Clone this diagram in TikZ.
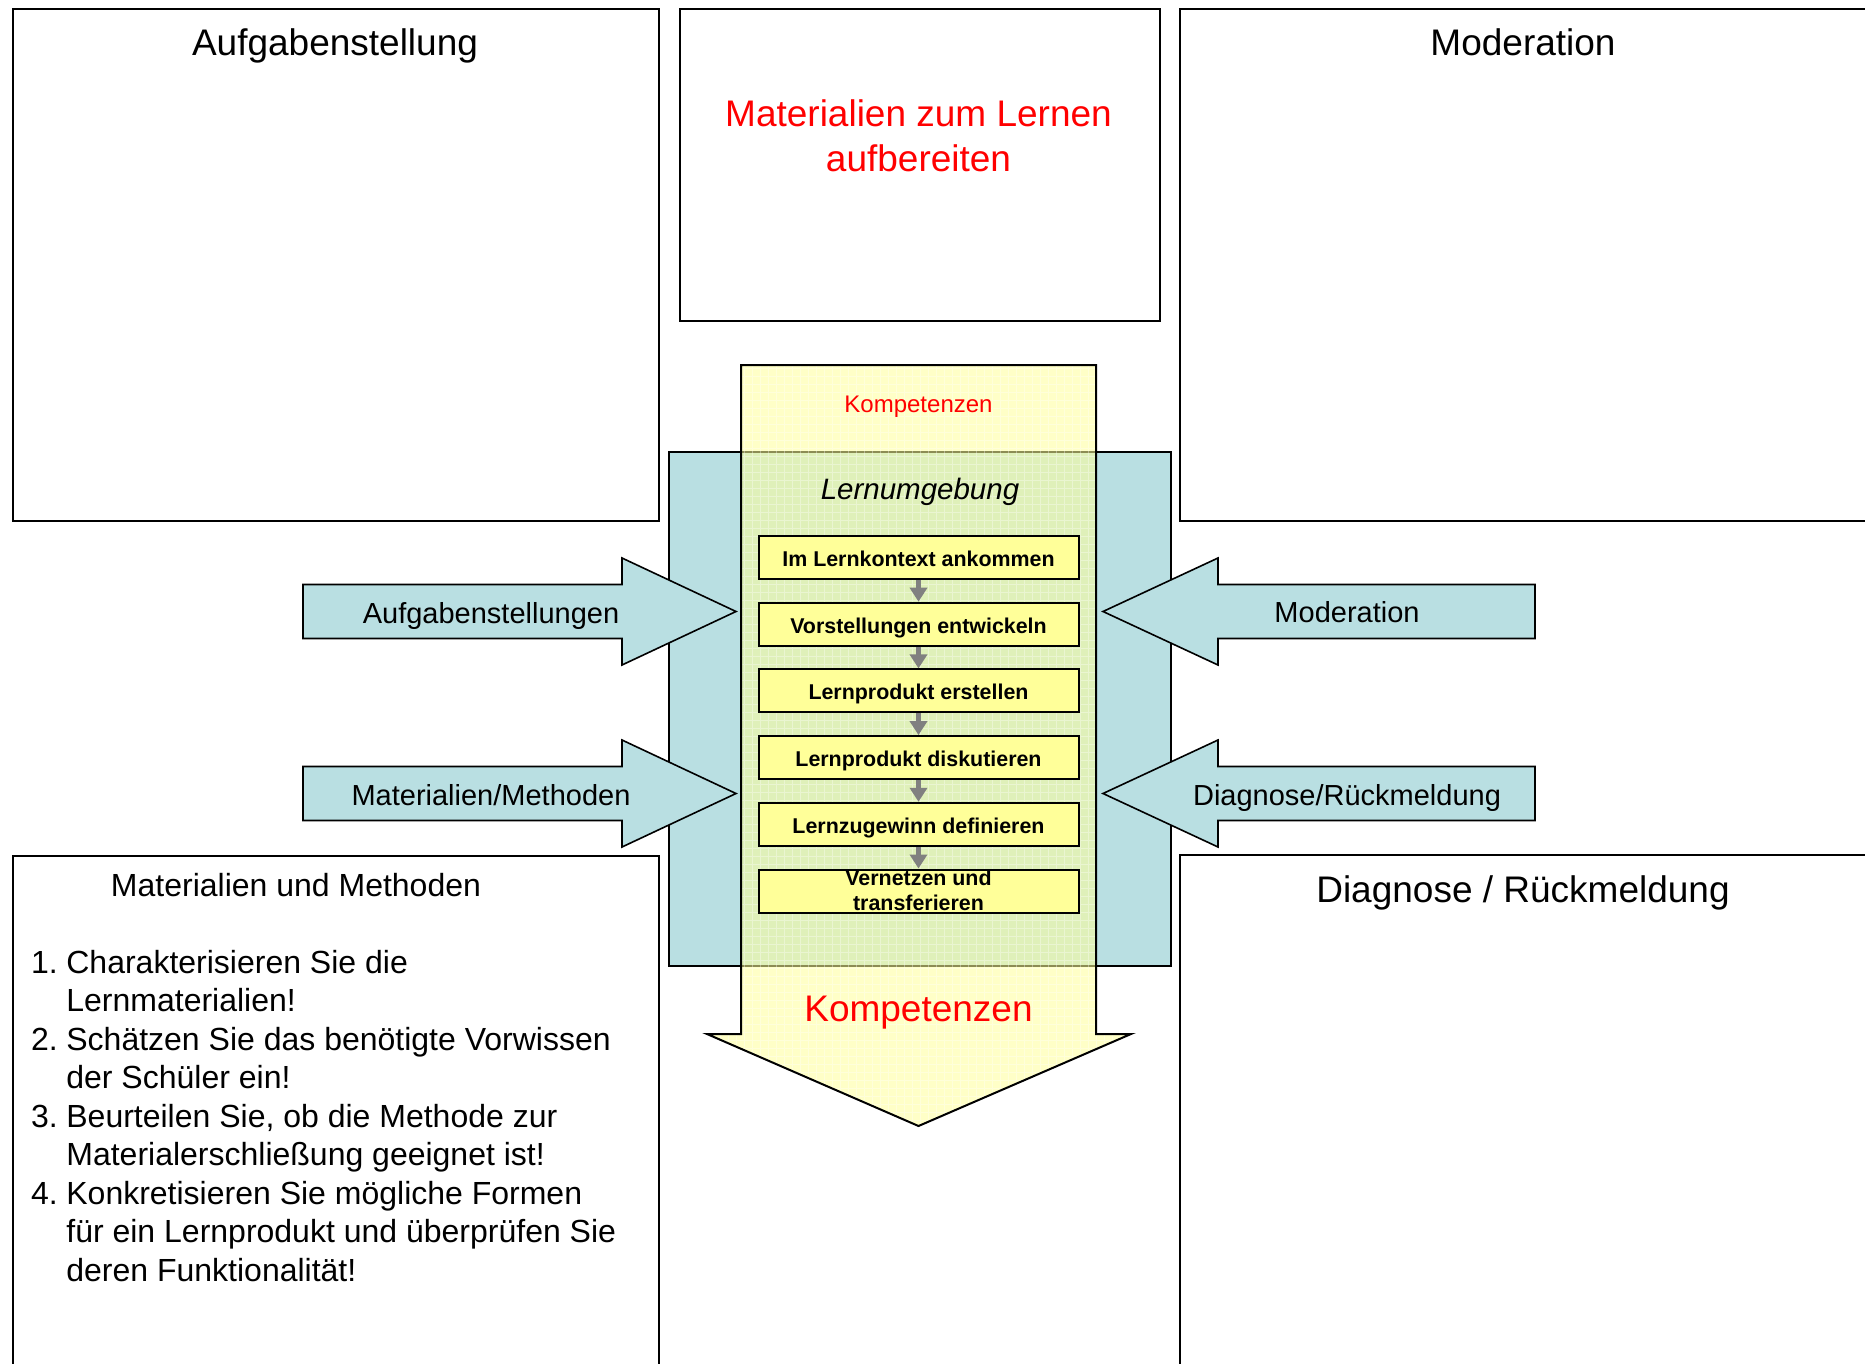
\documentclass[tikz,border=0pt]{standalone}
\usepackage{fontspec}
\setmainfont{Liberation Sans}
\usetikzlibrary{arrows.meta}
\definecolor{bluefill}{RGB}{185,223,226}
\definecolor{yelfill}{RGB}{255,255,153}
\definecolor{arrowgray}{RGB}{128,128,128}
\begin{document}
\begin{tikzpicture}[x=1pt,y=-1pt,
  panel/.style={draw=black,line width=2pt,fill=white,inner sep=0pt,anchor=north west},
  ptitle/.style={font=\fontsize{37}{45}\selectfont,inner sep=0pt},
  bluearrow/.style={draw=black,line width=1.6pt,fill=bluefill,line join=miter},
  arrowlabel/.style={font=\fontsize{29}{34}\selectfont,inner sep=0pt},
  stepbox/.style={draw=black,line width=2pt,fill=yelfill,minimum width=320pt,minimum height=43pt,inner sep=0pt,text height=17.6pt,text depth=0pt,font=\bfseries\fontsize{21.4}{25}\selectfont,align=center},
  flow/.style={draw=arrowgray,line width=5pt,-{Triangle[width=17pt,length=14pt]}}]
\useasboundingbox (0,0) rectangle (1865,1364);
\fill[white] (0,0) rectangle (1865,1364);
\clip (0,0) rectangle (1865,1364);

% panels
\node[panel,minimum width=646pt,minimum height=512pt] (pAuf) at (12,8) {};
\node[panel,minimum width=480pt,minimum height=312pt] (pMat) at (679,8) {};
\node[panel,minimum width=720pt,minimum height=512pt] (pMod) at (1179,8) {};
\node[panel,minimum width=646pt,minimum height=560pt] (pMuM) at (12,855) {};
\node[panel,minimum width=720pt,minimum height=560pt] (pDia) at (1179,854) {};

\node[ptitle] (tAuf) at (335,45.5) {Aufgabenstellung};
\node[ptitle,text=red,align=center] (tMat) at (918.5,135.5) {Materialien zum Lernen\\aufbereiten};
\node[ptitle] (tMod) at (1523,42) {Moderation};
\node[ptitle] (tDia) at (1523,893) {Diagnose / Rückmeldung};
\node[font=\fontsize{32}{38}\selectfont,inner sep=0pt] (tMuM) at (296,885) {Materialien und Methoden};
\node[anchor=base west,inner sep=0pt,font=\fontsize{32}{38.5}\selectfont] (list) at (31,973)
{\begin{tabular}[t]{@{}l@{\hspace{8.5pt}}l@{}}
1. & Charakterisieren Sie die\\
   & Lernmaterialien!\\
2. & Schätzen Sie das benötigte Vorwissen\\
   & der Schüler ein!\\
3. & Beurteilen Sie, ob die Methode zur\\
   & Materialerschließung geeignet ist!\\
4. & Konkretisieren Sie mögliche Formen\\
   & für ein Lernprodukt und überprüfen Sie\\
   & deren Funktionalität!
\end{tabular}};

% learning environment
\node[draw=black,line width=2pt,fill=bluefill,anchor=north west,minimum width=502pt,minimum height=514pt,inner sep=0pt] (env) at (668,451) {};

% side arrows
\draw[bluearrow] (303,584.5) -- (622,584.5) -- (622,558) -- (736,611.5) -- (622,665) -- (622,638.5) -- (303,638.5) -- cycle;
\draw[bluearrow] (303,766.5) -- (622,766.5) -- (622,740) -- (736,793.5) -- (622,847) -- (622,820.5) -- (303,820.5) -- cycle;
\draw[bluearrow] (1535,584.5) -- (1218,584.5) -- (1218,558) -- (1103,611.5) -- (1218,665) -- (1218,638.5) -- (1535,638.5) -- cycle;
\draw[bluearrow] (1535,766.5) -- (1218,766.5) -- (1218,740) -- (1103,793.5) -- (1218,847) -- (1218,820.5) -- (1535,820.5) -- cycle;
\node[arrowlabel] (lAuf) at (491,616) {Aufgabenstellungen};
\node[arrowlabel] (lMat) at (491,795) {Materialien/Methoden};
\node[arrowlabel] (lMod) at (1347,612.5) {Moderation};
\node[arrowlabel] (lDia) at (1347,797.5) {Diagnose/Rückmeldung};

% competence arrow
\fill[yelfill,fill opacity=0.55] (741,365) -- (1096,365) -- (1096,1034) -- (1131,1034) -- (918.5,1126) -- (707,1034) -- (741,1034) -- cycle;
\begin{scope}
\clip (741,365) -- (1096,365) -- (1096,1034) -- (1131,1034) -- (918.5,1126) -- (707,1034) -- (741,1034) -- cycle;
\draw[white,opacity=0.35,line width=0.8pt,step=8pt] (700,360) grid (1140,1130);
\end{scope}
\draw[line width=2pt,line join=miter] (741,365) -- (1096,365) -- (1096,1034) -- (1131,1034) -- (918.5,1126) -- (707,1034) -- (741,1034) -- cycle;

\node[font=\fontsize{24}{28}\selectfont,text=red,inner sep=0pt] (kTop) at (918.5,406.5) {Kompetenzen};
\node[font=\itshape\fontsize{29.5}{34}\selectfont,inner sep=0pt] (lern) at (920,492) {Lernumgebung};
\node[font=\fontsize{37}{44}\selectfont,text=red,inner sep=0pt] (kBot) at (918.5,1012.5) {Kompetenzen};

% steps
\node[stepbox] (s1) at (918.5,557.5) {Im Lernkontext ankommen};
\node[stepbox] (s2) at (918.5,624.2) {Vorstellungen entwickeln};
\node[stepbox] (s3) at (918.5,690.9) {Lernprodukt erstellen};
\node[stepbox] (s4) at (918.5,757.6) {Lernprodukt diskutieren};
\node[stepbox] (s5) at (918.5,824.3) {Lernzugewinn definieren};
\node[stepbox] (s6) at (918.5,891) {};
\node[font=\bfseries\fontsize{21.4}{25}\selectfont,align=center,inner sep=0pt] (s6t) at (918.5,890) {Vernetzen und\\transferieren};
\draw[flow] (s1.south) -- (s2.north);
\draw[flow] (s2.south) -- (s3.north);
\draw[flow] (s3.south) -- (s4.north);
\draw[flow] (s4.south) -- (s5.north);
\draw[flow] (s5.south) -- (s6.north);
\end{tikzpicture}
\end{document}
